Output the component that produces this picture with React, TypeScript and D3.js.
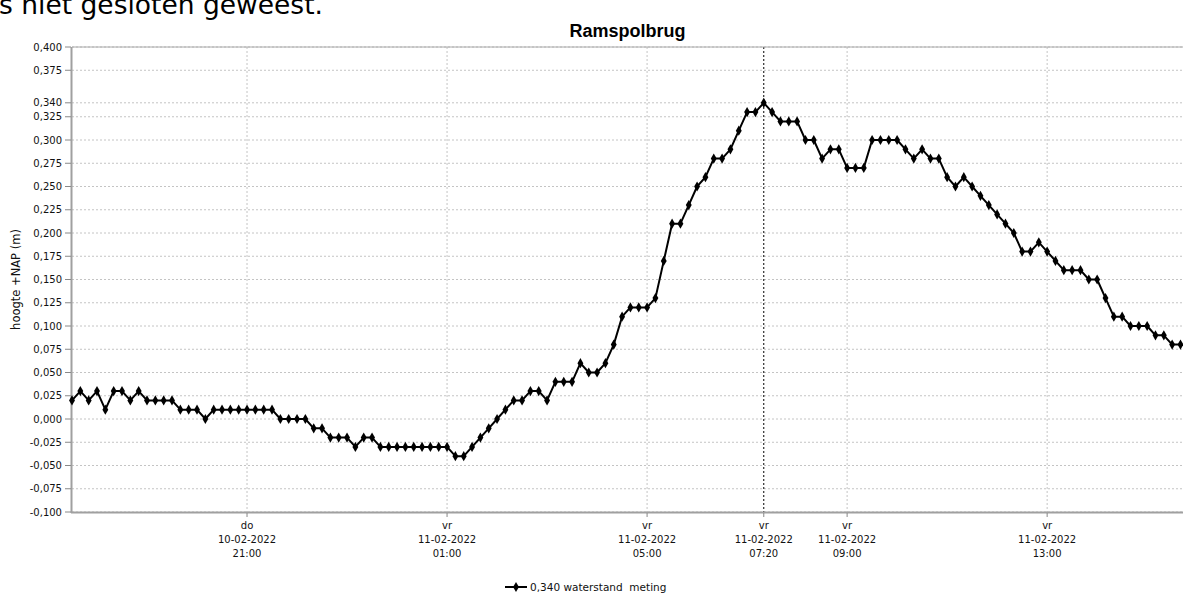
import React, { useRef, useEffect } from 'react';
import * as d3 from 'd3';

// waterstand Ramspolbrug, een meting per 10 minuten vanaf do 10-02-2022 17:30
const startTime = new Date(2022, 1, 10, 17, 30);
const endTime = new Date(2022, 1, 11, 15, 43);
const stepMinutes = 10;

const waterLevels: number[] = [
  0.02, 0.03, 0.02, 0.03, 0.01, 0.03, // 17:30
  0.03, 0.02, 0.03, 0.02, 0.02, 0.02, // 18:30
  0.02, 0.01, 0.01, 0.01, 0.00, 0.01, // 19:30
  0.01, 0.01, 0.01, 0.01, 0.01, 0.01, // 20:30
  0.01, 0.00, 0.00, 0.00, 0.00, -0.01, // 21:30
  -0.01, -0.02, -0.02, -0.02, -0.03, -0.02, // 22:30
  -0.02, -0.03, -0.03, -0.03, -0.03, -0.03, // 23:30
  -0.03, -0.03, -0.03, -0.03, -0.04, -0.04, // 00:30
  -0.03, -0.02, -0.01, 0.00, 0.01, 0.02, // 01:30
  0.02, 0.03, 0.03, 0.02, 0.04, 0.04, // 02:30
  0.04, 0.06, 0.05, 0.05, 0.06, 0.08, // 03:30
  0.11, 0.12, 0.12, 0.12, 0.13, 0.17, // 04:30
  0.21, 0.21, 0.23, 0.25, 0.26, 0.28, // 05:30
  0.28, 0.29, 0.31, 0.33, 0.33, 0.34, // 06:30
  0.33, 0.32, 0.32, 0.32, 0.30, 0.30, // 07:30
  0.28, 0.29, 0.29, 0.27, 0.27, 0.27, // 08:30
  0.30, 0.30, 0.30, 0.30, 0.29, 0.28, // 09:30
  0.29, 0.28, 0.28, 0.26, 0.25, 0.26, // 10:30
  0.25, 0.24, 0.23, 0.22, 0.21, 0.20, // 11:30
  0.18, 0.18, 0.19, 0.18, 0.17, 0.16, // 12:30
  0.16, 0.16, 0.15, 0.15, 0.13, 0.11, // 13:30
  0.11, 0.10, 0.10, 0.10, 0.09, 0.09, // 14:30
  0.08, 0.08 // 15:30
];

const yTicks: number[] = [
  0.4, 0.375, 0.34, 0.325, 0.3, 0.275, 0.25, 0.225, 0.2, 0.175, 0.15, 0.125, 0.1,
  0.075, 0.05, 0.025, 0, -0.025, -0.05, -0.075, -0.1
];

const xTickTimes: Date[] = [
  new Date(2022, 1, 10, 21, 0),
  new Date(2022, 1, 11, 1, 0),
  new Date(2022, 1, 11, 5, 0),
  new Date(2022, 1, 11, 7, 20),
  new Date(2022, 1, 11, 9, 0),
  new Date(2022, 1, 11, 13, 0)
];

const markerTime = new Date(2022, 1, 11, 7, 20);
const markerValue = 0.34;
const dayNames = ['zo', 'ma', 'di', 'wo', 'do', 'vr', 'za'];

const App: React.FC = () => {
  const svgRef = useRef<SVGSVGElement>(null);

  useEffect(() => {
    if (!svgRef.current) return;
    const svg = d3.select(svgRef.current);
    svg.selectAll('*').remove();

    const left = 72, right = 1183, top = 47, bottom = 512;
    const font = 'DejaVu Sans, Verdana, sans-serif';

    const data = waterLevels.map((v, i) => ({
      time: d3.timeMinute.offset(startTime, i * stepMinutes),
      value: v
    }));

    const x = d3.scaleTime().domain([startTime, endTime]).range([left, right]);
    const y = d3.scaleLinear().domain([-0.1, 0.4]).range([bottom, top]);

    const nl = d3.formatLocale({
      decimal: ',', thousands: '.', grouping: [3], currency: ['', ' EUR'], minus: '-'
    });
    const fmtY = nl.format('.3f');
    const fmtDate = d3.timeFormat('%d-%m-%Y');
    const fmtTime = d3.timeFormat('%H:%M');

    // tekst van de pagina erboven (in het origineel ook afgesneden)
    svg.append('text')
      .attr('x', -1).attr('y', 14)
      .attr('font-family', font).attr('font-size', 26.5)
      .attr('fill', '#000')
      .text('s niet gesloten geweest.');

    // titel
    svg.append('text')
      .attr('x', (left + right) / 2).attr('y', 37)
      .attr('text-anchor', 'middle')
      .attr('font-family', 'Liberation Sans, Arial, sans-serif')
      .attr('font-weight', 'bold').attr('font-size', 18)
      .text('Ramspolbrug');

    // horizontale rasterlijnen
    svg.append('g')
      .selectAll('line')
      .data(yTicks)
      .enter().append('line')
      .attr('x1', left).attr('x2', right)
      .attr('y1', d => y(d)).attr('y2', d => y(d))
      .attr('stroke', '#c4c4c4').attr('stroke-width', 1)
      .attr('stroke-dasharray', '2,2');

    // verticale rasterlijnen
    svg.append('g')
      .selectAll('line')
      .data(xTickTimes.filter(t => +t !== +markerTime))
      .enter().append('line')
      .attr('x1', d => x(d)).attr('x2', d => x(d))
      .attr('y1', top).attr('y2', bottom)
      .attr('stroke', '#c4c4c4').attr('stroke-width', 1)
      .attr('stroke-dasharray', '2,2');

    // markering huidige tijd
    svg.append('line')
      .attr('x1', x(markerTime)).attr('x2', x(markerTime))
      .attr('y1', top).attr('y2', bottom)
      .attr('stroke', '#000').attr('stroke-width', 1)
      .attr('stroke-dasharray', '2,2');

    // assen
    svg.append('line')
      .attr('x1', left).attr('x2', right).attr('y1', top).attr('y2', top)
      .attr('stroke', '#a8a8a8').attr('stroke-width', 1);
    svg.append('line')
      .attr('x1', left - 0.5).attr('x2', left - 0.5).attr('y1', top).attr('y2', bottom + 1)
      .attr('stroke', '#a0a0a0').attr('stroke-width', 2);
    svg.append('line')
      .attr('x1', left - 1).attr('x2', right).attr('y1', bottom + 0.5).attr('y2', bottom + 0.5)
      .attr('stroke', '#a0a0a0').attr('stroke-width', 2);

    // y-as labels
    const yAxis = svg.append('g');
    yAxis.selectAll('line')
      .data(yTicks)
      .enter().append('line')
      .attr('x1', left - 7).attr('x2', left - 1)
      .attr('y1', d => y(d)).attr('y2', d => y(d))
      .attr('stroke', '#888');
    yAxis.selectAll('text')
      .data(yTicks)
      .enter().append('text')
      .attr('x', left - 10).attr('y', d => y(d))
      .attr('dy', '0.35em')
      .attr('text-anchor', 'end')
      .attr('font-family', font).attr('font-size', 10)
      .attr('fill', '#111')
      .text(d => fmtY(d));

    svg.append('text')
      .attr('transform', `translate(20,${(top + bottom) / 2}) rotate(-90)`)
      .attr('text-anchor', 'middle')
      .attr('font-family', font).attr('font-size', 11.5)
      .attr('fill', '#111')
      .text('hoogte +NAP (m)');

    // x-as labels
    const xAxis = svg.append('g');
    xAxis.selectAll('line')
      .data(xTickTimes)
      .enter().append('line')
      .attr('x1', d => x(d)).attr('x2', d => x(d))
      .attr('y1', bottom + 1).attr('y2', bottom + 5)
      .attr('stroke', '#888');
    const lab = xAxis.selectAll('text')
      .data(xTickTimes)
      .enter().append('text')
      .attr('x', d => x(d))
      .attr('text-anchor', 'middle')
      .attr('font-family', font).attr('font-size', 10)
      .attr('fill', '#111');
    lab.append('tspan').attr('x', d => x(d)).attr('y', bottom + 17).text(d => dayNames[d.getDay()]);
    lab.append('tspan').attr('x', d => x(d)).attr('y', bottom + 31).text(d => fmtDate(d));
    lab.append('tspan').attr('x', d => x(d)).attr('y', bottom + 45).text(d => fmtTime(d));

    // meetreeks
    const line = d3.line<{ time: Date; value: number }>()
      .x(d => x(d.time))
      .y(d => y(d.value));

    svg.append('path')
      .datum(data)
      .attr('d', line)
      .attr('fill', 'none')
      .attr('stroke', '#000')
      .attr('stroke-width', 2)
      .attr('stroke-linejoin', 'round');

    const sym = d3.symbol().type(d3.symbolDiamond).size(30);
    svg.append('g')
      .selectAll('path')
      .data(data)
      .enter().append('path')
      .attr('transform', d => `translate(${x(d.time)},${y(d.value)})`)
      .attr('d', sym)
      .attr('fill', '#000');

    // legenda
    const leg = svg.append('g').attr('transform', 'translate(505,587)');
    leg.append('line').attr('x1', 0).attr('x2', 22).attr('y1', 0).attr('y2', 0)
      .attr('stroke', '#000').attr('stroke-width', 2);
    leg.append('path').attr('transform', 'translate(11,0)').attr('d', sym).attr('fill', '#000');
    leg.append('text')
      .attr('x', 25).attr('y', 0).attr('dy', '0.35em')
      .attr('font-family', font).attr('font-size', 10.5)
      .attr('fill', '#111')
      .text(`${fmtY(markerValue)} waterstand  meting`)
      .attr('xml:space', 'preserve');
  }, []);

  return (
    <svg
      ref={svgRef}
      width="1183"
      height="596"
      style={{ position: 'absolute', left: 0, top: 0, background: '#fff' }}
    ></svg>
  );
};

export default App;
